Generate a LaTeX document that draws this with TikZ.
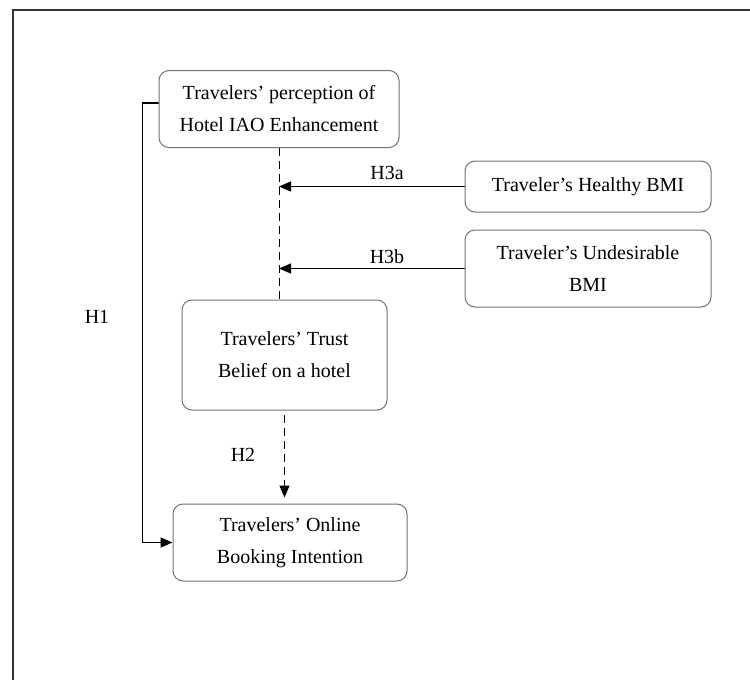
\documentclass[tikz,border=0pt]{standalone}
\usepackage{fontspec}
\setmainfont{Liberation Serif}
\usetikzlibrary{arrows.meta}
\pgfdeclarelayer{edgelayer}
\pgfdeclarelayer{nodelayer}
\pgfsetlayers{edgelayer,nodelayer,main}
\tikzstyle{box}=[rectangle, rounded corners=5pt, draw=black!55, line width=0.5pt, fill=white, align=center, inner sep=0pt, font=\fontsize{10}{16}\selectfont]
\tikzstyle{edge}=[draw=black, line width=0.6pt]
\tikzstyle{arrowedge}=[edge, -{Triangle[length=6pt,width=5pt]}]
\tikzstyle{dashededge}=[edge, line width=0.5pt, dash pattern=on 4pt off 2.5pt]
\tikzstyle{hyp}=[font=\fontsize{10}{12}\selectfont]
\tikzstyle{frame}=[draw=black!80, line width=1pt]

\begin{document}
\begin{tikzpicture}[x=0.5pt, y=-0.5pt]
	\useasboundingbox (0, 0) rectangle (750, 680);
	\draw [style=frame] (13, 680) -- (13, 10) -- (750, 10);
	\begin{pgfonlayer}{nodelayer}
		\node [style=box, minimum width=120pt, minimum height=38.5pt] (1) at (279, 109) {Travelers’ perception of\\Hotel IAO Enhancement};
		\node [style=box, minimum width=123pt, minimum height=25.5pt] (2) at (588, 186.5) {Traveler’s Healthy BMI};
		\node [style=box, minimum width=123pt, minimum height=38.5pt] (3) at (588, 268.5) {Traveler’s Undesirable\\BMI};
		\node [style=box, minimum width=102.5pt, minimum height=55pt] (4) at (284.5, 355) {Travelers’ Trust\\Belief on a hotel};
		\node [style=box, minimum width=117pt, minimum height=38.5pt] (5) at (290, 542.5) {Travelers’ Online\\Booking Intention};
		\node [style=hyp] (h1) at (97, 317) {H1};
		\node [style=hyp] (h2) at (243, 455) {H2};
		\node [style=hyp] (h3a) at (387, 173) {H3a};
		\node [style=hyp] (h3b) at (387, 257) {H3b};
	\end{pgfonlayer}
	\begin{pgfonlayer}{edgelayer}
		\coordinate (m1) at (1.south |- 2.west);
		\coordinate (m2) at (1.south |- 3.west);
		\draw [style=dashededge] (1.south) to (1.south |- 4.north);
		\draw [style=arrowedge] (2.west) to (m1);
		\draw [style=arrowedge] (3.west) to (m2);
		\draw [style=dashededge, -{Triangle[length=6pt,width=5pt]}, shorten <=2pt, shorten >=3pt] (4.south) to (4.south |- 5.north);
		\draw [style=arrowedge] ([yshift=3pt]1.west) -- ++(-16, 0) |- (5.west);
	\end{pgfonlayer}
\end{tikzpicture}
\end{document}
